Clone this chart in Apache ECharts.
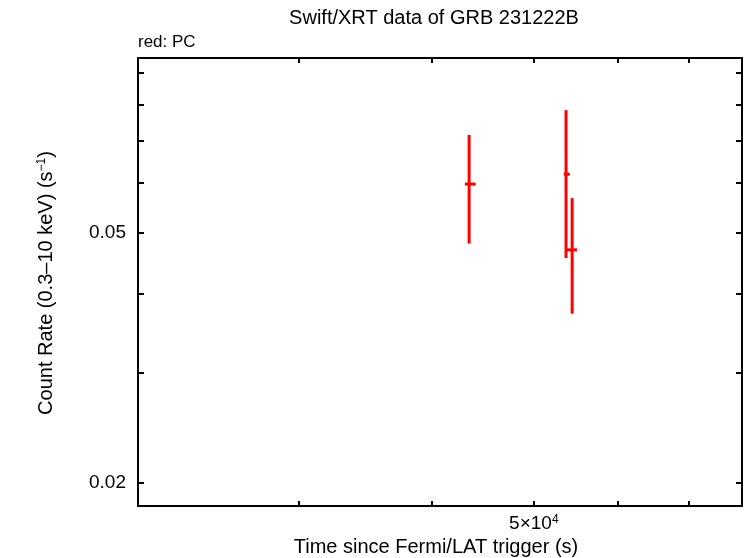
<!DOCTYPE html>
<html>
<head>
<meta charset="utf-8">
<script src="https://cdn.jsdelivr.net/npm/echarts@6/dist/echarts.min.js"></script>
<style>
html,body{margin:0;padding:0;background:#fff;}
#chart{width:746px;height:558px;}
</style>
</head>
<body>
<div id="chart"></div>
<script>
// ---- data ----
var pcTime     = [43430, 53630, 54350];
var pcTimeLo   = [43030, 53360, 53730];
var pcTimeHi   = [44060, 54080, 54920];
var pcRate     = [0.0598, 0.0620, 0.0470];
var pcRateLo   = [0.0481, 0.0456, 0.0372];
var pcRateHi   = [0.0716, 0.0784, 0.0568];

var xTicks = [30000, 40000, 50000, 60000, 70000];
var xLabels = [50000];
var yTicks = [0.02, 0.03, 0.04, 0.05, 0.06, 0.07, 0.08, 0.09];
var yLabels = [0.02, 0.05];

var xMin = 21125, xMax = 78660;
var yMin = 0.01839, yMax = 0.0949;

var FONT = 'Liberation Sans';

var pcData = pcTime.map(function (t, i) {
  return [t, pcRate[i], pcTimeLo[i], pcTimeHi[i], pcRateLo[i], pcRateHi[i]];
});

function errRender(params, api) {
  var x = api.value(0), y = api.value(1);
  var c = api.coord([x, y]);
  var xl = api.coord([api.value(2), y]);
  var xh = api.coord([api.value(3), y]);
  var yl = api.coord([x, api.value(4)]);
  var yh = api.coord([x, api.value(5)]);
  var st = { stroke: '#ff0000', lineWidth: 3 };
  return {
    type: 'group',
    children: [
      { type: 'line', shape: { x1: c[0], y1: yl[1], x2: c[0], y2: yh[1] }, style: st },
      { type: 'line', shape: { x1: xl[0], y1: c[1], x2: xh[0], y2: c[1] }, style: st }
    ]
  };
}

var chart = echarts.init(document.getElementById('chart'), null, { renderer: 'canvas' });

var axisLineStyle = { color: '#000', width: 2 };
function xAxisDef(pos, showLabels) {
  return {
    type: 'log', logBase: 10, position: pos, min: xMin, max: xMax,
    splitLine: { show: false },
    axisLine: { show: true, onZero: false, lineStyle: axisLineStyle },
    axisTick: { show: true, inside: true, length: 5, customValues: xTicks, lineStyle: { color: '#000', width: 2 } },
    axisLabel: showLabels ? {
      show: true, customValues: xLabels, margin: 8, color: '#000',
      fontFamily: FONT, fontSize: 19,
      formatter: function (v) { return '5×10{sup|4}'; },
      rich: { sup: { fontFamily: FONT, fontSize: 12, verticalAlign: 'top', padding: [0, 0, 8, 0] } }
    } : { show: false },
    minorTick: { show: false }
  };
}
function yAxisDef(pos, showLabels) {
  return {
    type: 'log', logBase: 10, position: pos, min: yMin, max: yMax,
    splitLine: { show: false },
    axisLine: { show: true, onZero: false, lineStyle: axisLineStyle },
    axisTick: { show: true, inside: true, length: 6, customValues: yTicks, lineStyle: { color: '#000', width: 2 } },
    axisLabel: showLabels ? {
      show: true, customValues: yLabels, margin: 12, color: '#000',
      fontFamily: FONT, fontSize: 19,
      formatter: function (v) { return (Math.round(v * 100) / 100).toFixed(2); }
    } : { show: false },
    minorTick: { show: false }
  };
}

var option = {
  animation: false,
  backgroundColor: '#fff',
  grid: { left: 138, right: 4, top: 58, bottom: 52, containLabel: false },
  xAxis: [xAxisDef('bottom', true), xAxisDef('top', false)],
  yAxis: [yAxisDef('left', true), yAxisDef('right', false)],
  graphic: [
    { type: 'text', x: 434, y: 18, style: { text: 'Swift/XRT data of GRB 231222B', fontFamily: FONT, fontSize: 20, fill: '#000', textAlign: 'center', textVerticalAlign: 'middle' } },
    { type: 'text', x: 138, y: 42, style: { text: 'red: PC', fontFamily: FONT, fontSize: 17, fill: '#000', textVerticalAlign: 'middle' } },
    { type: 'text', x: 436, y: 547, style: { text: 'Time since Fermi/LAT trigger (s)', fontFamily: FONT, fontSize: 20, fill: '#000', textAlign: 'center', textVerticalAlign: 'middle' } },
    { type: 'text', x: 46, y: 283, rotation: Math.PI / 2,
      style: { text: 'Count Rate (0.3\u201310 keV) (s{sup|\u22121})', fontFamily: FONT, fontSize: 20, fill: '#000', textAlign: 'center', textVerticalAlign: 'middle',
        rich: { sup: { fontFamily: FONT, fontSize: 12, verticalAlign: 'top', padding: [0, 0, 9, 0] } } } }
  ],
  series: [{
    type: 'custom',
    xAxisIndex: 0, yAxisIndex: 0,
    renderItem: errRender,
    data: pcData,
    encode: { x: 0, y: 1 },
    clip: false
  }]
};
chart.setOption(option);
</script>
</body>
</html>
